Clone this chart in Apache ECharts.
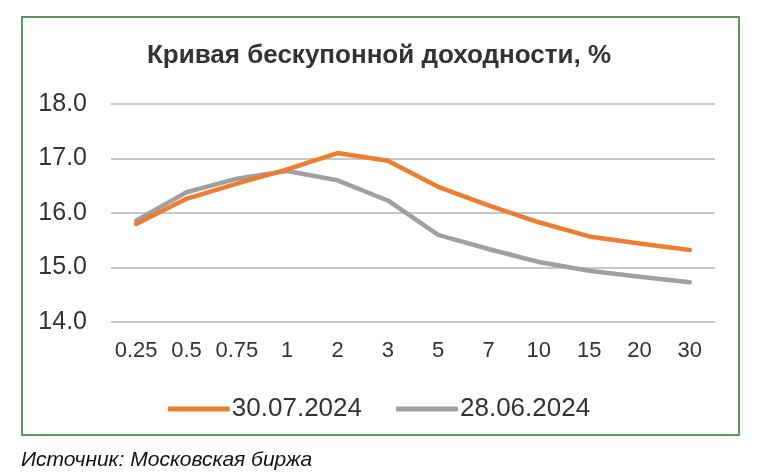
<!DOCTYPE html>
<html>
<head>
<meta charset="utf-8">
<script src="https://cdn.jsdelivr.net/npm/echarts@6/dist/echarts.min.js"></script>
<style>
  html, body { margin: 0; padding: 0; background: #fff; }
  #main { width: 758px; height: 476px; }
</style>
</head>
<body>
<div id="main"></div>
<script>
// сроки, лет
var terms = ['0.25', '0.5', '0.75', '1', '2', '3', '5', '7', '10', '15', '20', '30'];
// доходность 30.07.2024
var yield0730 = [15.80, 16.26, 16.54, 16.80, 17.10, 16.96, 16.48, 16.14, 15.83, 15.57, 15.44, 15.32];
// доходность 28.06.2024
var yield0628 = [15.86, 16.38, 16.63, 16.77, 16.60, 16.23, 15.60, 15.34, 15.10, 14.94, 14.83, 14.73];
var yTicks = [14, 15, 16, 17, 18];

var chart = echarts.init(document.getElementById('main'));

var option = {
    animation: false,
    backgroundColor: '#fff',
    title: {
        text: 'Кривая бескупонной доходности, %',
        left: 'center',
        top: 38,
        textStyle: {
            fontFamily: 'Liberation Sans, Arial, sans-serif',
            fontSize: 26,
            fontWeight: 'bold',
            color: '#333'
        }
    },
    legend: {
        left: 'center',
        top: 391,
        icon: 'roundRect',
        itemWidth: 62,
        itemHeight: 5,
        itemGap: 34,
        textStyle: {
            fontFamily: 'Liberation Sans, Arial, sans-serif',
            fontSize: 26,
            color: '#333',
            padding: [0, 0, 0, -3]
        },
        data: ['30.07.2024', '28.06.2024']
    },
    grid: {
        left: 111,
        right: 43,
        top: 104,
        height: 218
    },
    xAxis: {
        type: 'category',
        data: terms,
        boundaryGap: true,
        axisLine: { show: false },
        axisTick: { show: false },
        axisLabel: {
            interval: 0,
            margin: 18,
            fontFamily: 'Liberation Sans, Arial, sans-serif',
            fontSize: 22,
            color: '#333'
        }
    },
    yAxis: {
        type: 'value',
        min: yTicks[0],
        max: yTicks[yTicks.length - 1],
        interval: 1,
        axisLine: { show: false },
        axisTick: { show: false },
        axisLabel: {
            margin: 24,
            fontFamily: 'Liberation Sans, Arial, sans-serif',
            fontSize: 25,
            color: '#333',
            formatter: function (v) { return v.toFixed(1); }
        },
        splitLine: {
            lineStyle: { color: '#c8c8c8', width: 2 }
        }
    },
    series: [
        {
            name: '30.07.2024',
            type: 'line',
            data: yield0730,
            symbol: 'none',
            color: '#ED7D31',
            lineStyle: { width: 4.5, color: '#ED7D31', cap: 'round', join: 'round' },
            z: 3
        },
        {
            name: '28.06.2024',
            type: 'line',
            data: yield0628,
            symbol: 'none',
            color: '#A0A0A0',
            lineStyle: { width: 4.5, color: '#A0A0A0', cap: 'round', join: 'round' },
            z: 2
        }
    ],
    graphic: [
        {
            type: 'rect',
            shape: { x: 22, y: 17, width: 717, height: 418 },
            style: { fill: 'none', stroke: '#5E9460', lineWidth: 2 },
            z: -1
        },
        {
            type: 'text',
            left: 21,
            top: 450,
            style: {
                text: 'Источник: Московская биржа',
                font: 'italic 21px "Liberation Sans", Arial, sans-serif',
                fill: '#111'
            }
        }
    ]
};

chart.setOption(option);
</script>
</body>
</html>
